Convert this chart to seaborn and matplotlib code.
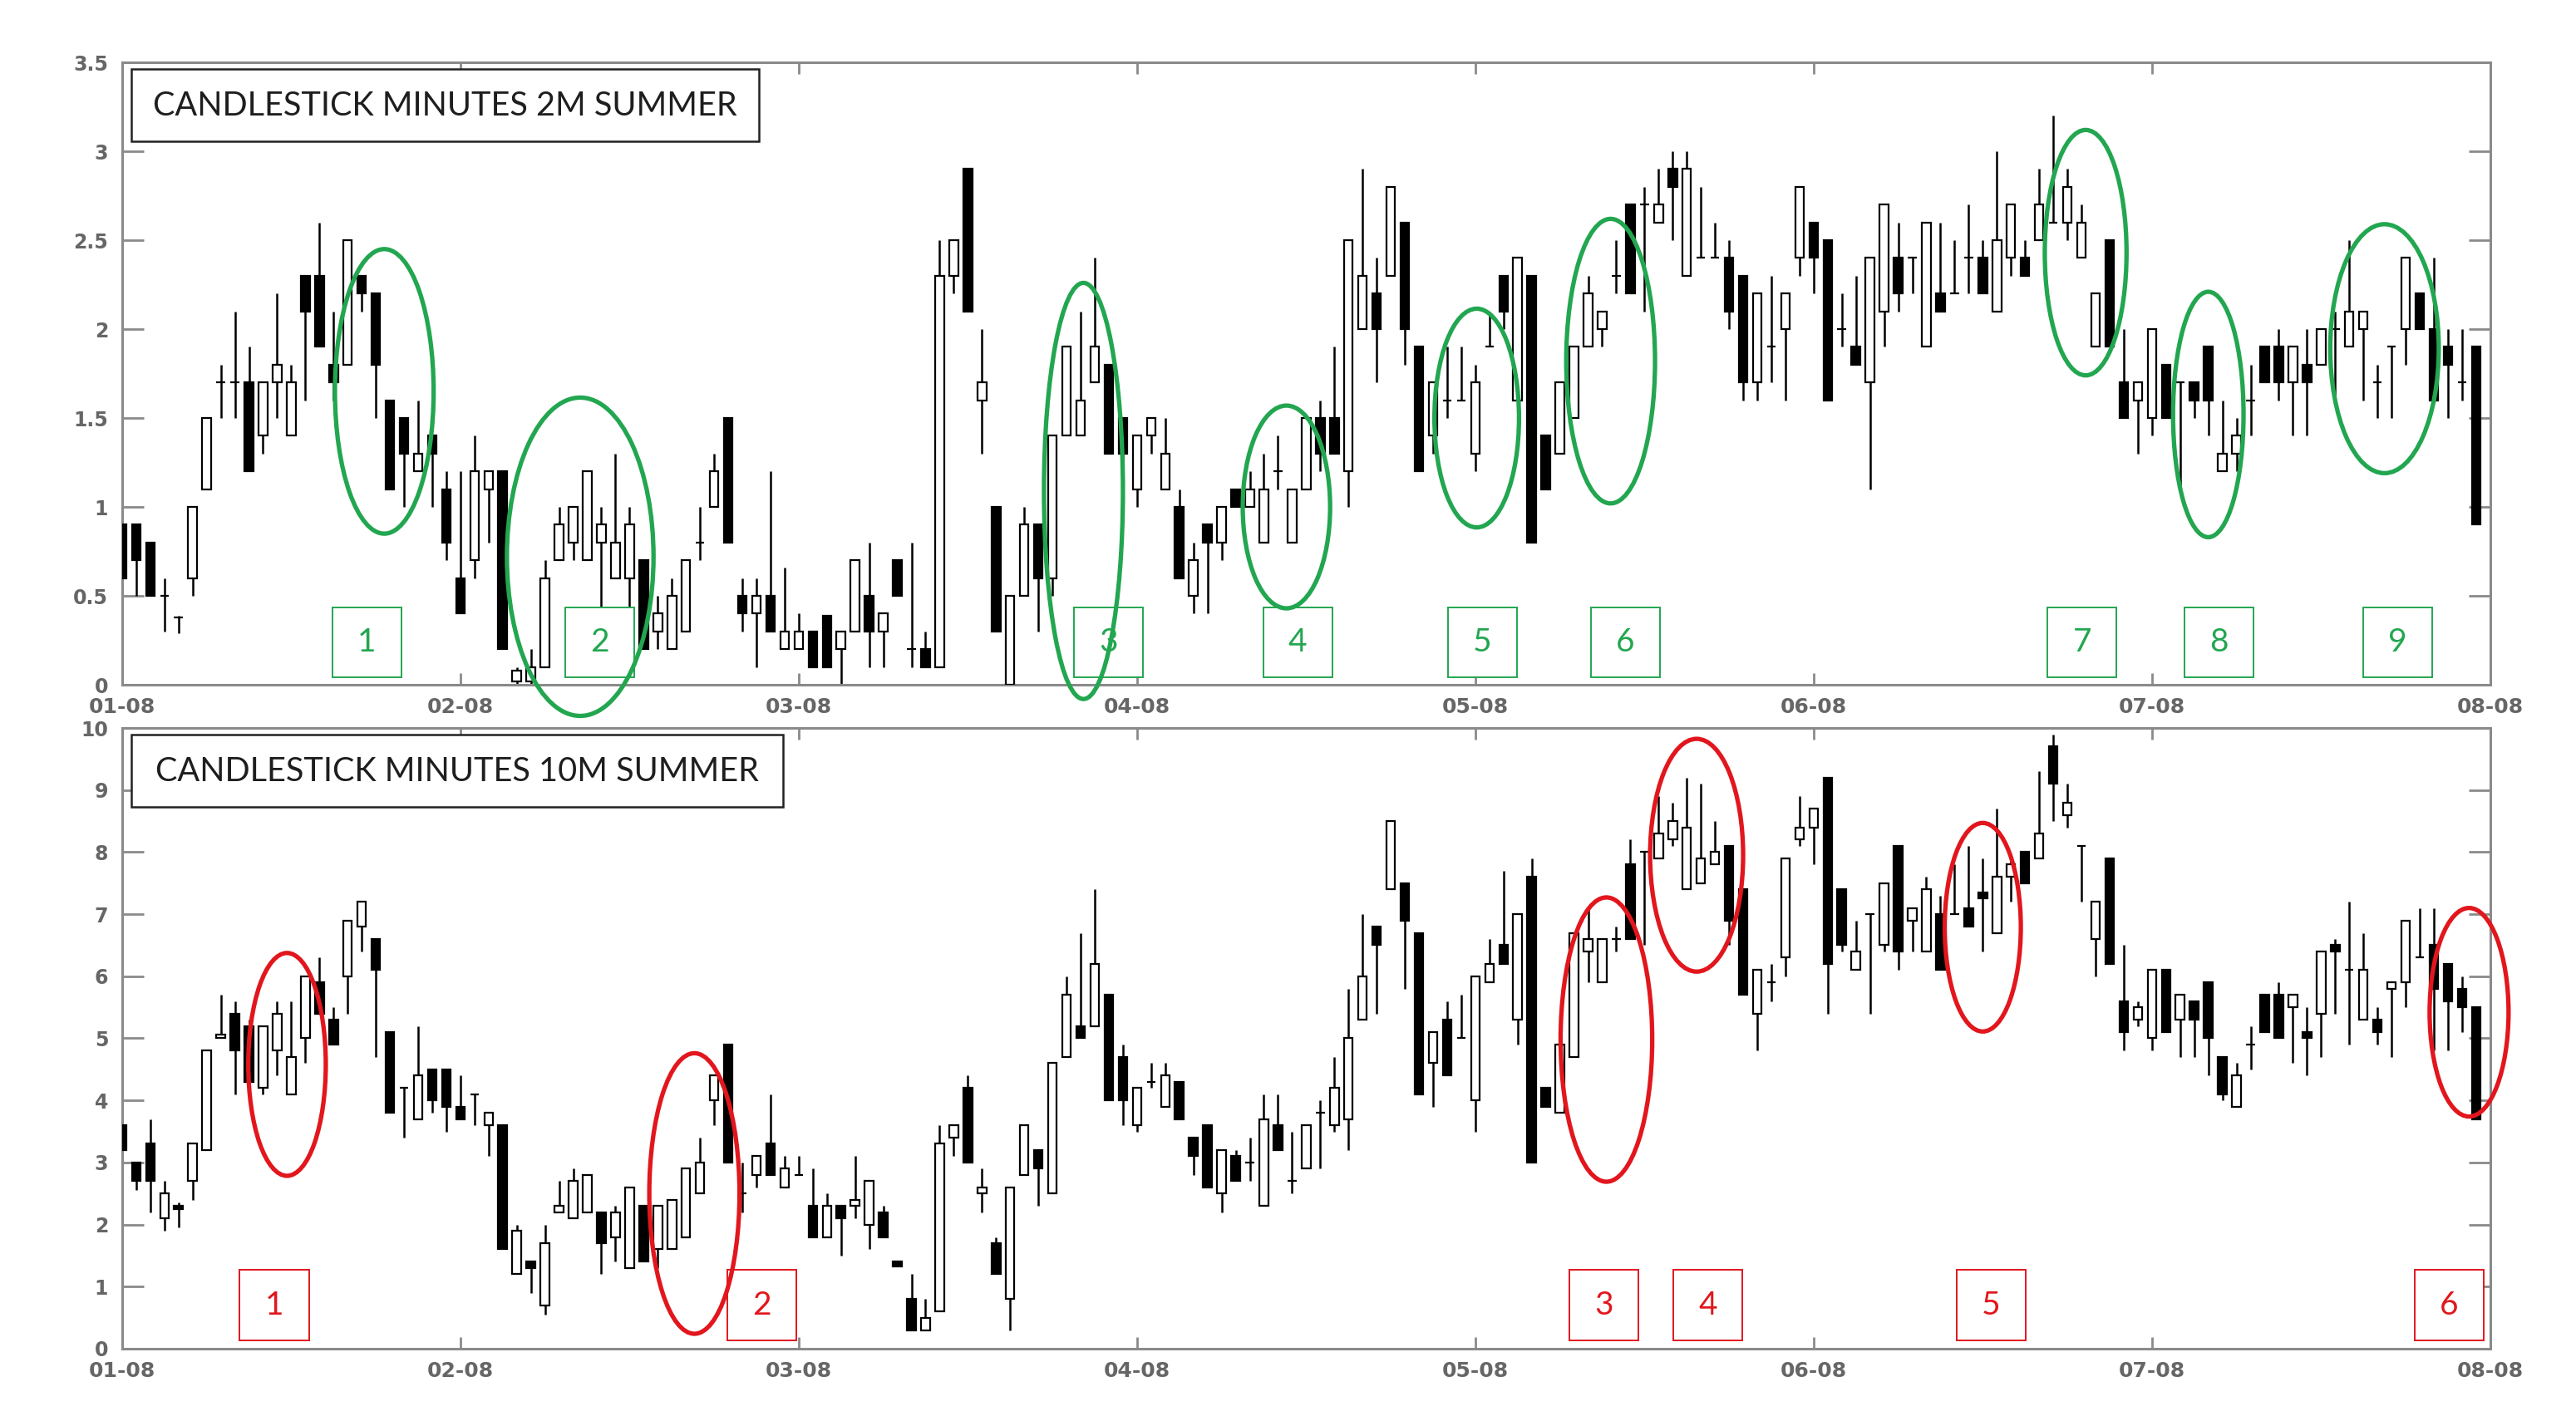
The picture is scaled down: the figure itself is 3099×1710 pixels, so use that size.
import numpy as np
import pandas as pd
import seaborn as sns
import matplotlib
matplotlib.use('Agg')
import matplotlib.pyplot as plt
from matplotlib.patches import Ellipse, Rectangle

sns.set_theme(style='white')
plt.rcParams['font.family'] = ['Lato', 'DejaVu Sans']

# x axis labels (one every 24 candles)
month_labels = ['01-08', '02-08', '03-08', '04-08', '05-08', '06-08', '07-08', '08-08']

# ---- 2M panel (OHLC) ----
top_open = [
    0.9, 0.9, 0.8, 0.5, 0.38, 0.6, 1.1, 1.7, 1.7, 1.7, 1.4, 1.7,
    1.4, 2.3, 2.3, 1.8, 1.8, 2.3, 2.2, 1.6, 1.5, 1.2, 1.4, 1.1,
    0.6, 0.7, 1.1, 1.2, 0.02, 0.02, 0.1, 0.7, 0.8, 0.7, 0.8, 0.6,
    0.6, 0.7, 0.3, 0.2, 0.3, 0.8, 1.0, 1.5, 0.5, 0.4, 0.5, 0.2,
    0.2, 0.3, 0.39, 0.2, 0.3, 0.5, 0.3, 0.7, 0.2, 0.2, 0.1, 2.3,
    2.9, 1.6, 1.0, 0.0, 0.5, 0.9, 0.6, 1.4, 1.4, 1.7, 1.8, 1.5,
    1.1, 1.4, 1.1, 1.0, 0.5, 0.9, 0.8, 1.1, 1.0, 0.8, 1.2, 0.8,
    1.1, 1.5, 1.5, 1.2, 2.0, 2.2, 2.3, 2.6, 1.9, 1.4, 1.6, 1.6,
    1.3, 1.9, 2.3, 1.6, 2.3, 1.4, 1.3, 1.5, 1.9, 2.0, 2.3, 2.7,
    2.7, 2.6, 2.9, 2.3, 2.4, 2.4, 2.4, 2.3, 1.7, 1.9, 2.0, 2.4,
    2.6, 2.5, 2.0, 1.9, 1.7, 2.1, 2.4, 2.4, 1.9, 2.2, 2.2, 2.4,
    2.4, 2.1, 2.4, 2.4, 2.5, 2.6, 2.6, 2.4, 1.9, 2.5, 1.7, 1.6,
    1.5, 1.8, 1.7, 1.7, 1.9, 1.2, 1.3, 1.6, 1.9, 1.9, 1.7, 1.8,
    1.8, 2.0, 1.9, 2.0, 1.7, 1.9, 2.0, 2.2, 2.0, 1.9, 1.7, 1.9,
]
top_high = [
    0.9, 0.9, 0.8, 0.6, 0.39, 1.0, 1.5, 1.8, 2.1, 1.9, 1.7, 2.2,
    1.8, 2.3, 2.6, 2.1, 2.5, 2.3, 2.2, 1.6, 1.5, 1.6, 1.4, 1.2,
    1.2, 1.4, 1.2, 1.2, 0.1, 0.2, 0.7, 1.0, 1.0, 1.2, 1.0, 1.3,
    1.0, 0.7, 0.5, 0.6, 0.7, 1.0, 1.3, 1.5, 0.6, 0.6, 1.2, 0.66,
    0.4, 0.3, 0.39, 0.3, 0.7, 0.8, 0.4, 0.7, 0.8, 0.3, 2.5, 2.5,
    2.9, 2.0, 1.0, 0.5, 1.0, 0.9, 1.4, 1.9, 2.1, 2.4, 1.8, 1.5,
    1.4, 1.5, 1.5, 1.1, 0.8, 0.9, 1.0, 1.1, 1.2, 1.3, 1.4, 1.1,
    1.5, 1.6, 1.9, 2.5, 2.9, 2.4, 2.8, 2.6, 1.9, 1.7, 1.9, 1.9,
    1.8, 2.1, 2.3, 2.4, 2.3, 1.4, 1.7, 1.9, 2.3, 2.1, 2.5, 2.7,
    2.8, 2.9, 3.0, 3.0, 2.8, 2.6, 2.5, 2.3, 2.2, 2.3, 2.2, 2.8,
    2.6, 2.5, 2.2, 2.3, 2.4, 2.7, 2.6, 2.4, 2.6, 2.6, 2.5, 2.7,
    2.5, 3.0, 2.7, 2.5, 2.9, 3.2, 2.9, 2.7, 2.2, 2.5, 2.0, 1.7,
    2.0, 1.8, 1.7, 1.7, 1.9, 1.6, 1.5, 1.8, 1.9, 2.0, 1.9, 2.0,
    2.0, 2.1, 2.5, 2.1, 1.8, 1.9, 2.4, 2.2, 2.4, 2.0, 2.0, 1.9,
]
top_low = [
    0.6, 0.5, 0.5, 0.3, 0.29, 0.5, 1.1, 1.5, 1.5, 1.2, 1.3, 1.5,
    1.4, 1.6, 1.9, 1.6, 1.8, 2.1, 1.5, 1.1, 1.0, 1.2, 1.0, 0.7,
    0.4, 0.6, 0.8, 0.2, 0.0, 0.0, 0.1, 0.7, 0.7, 0.7, 0.4, 0.6,
    0.4, 0.2, 0.2, 0.2, 0.3, 0.7, 1.0, 0.8, 0.3, 0.1, 0.3, 0.2,
    0.2, 0.1, 0.1, 0.0, 0.3, 0.1, 0.1, 0.5, 0.1, 0.1, 0.1, 2.2,
    2.1, 1.3, 0.3, 0.0, 0.5, 0.3, 0.5, 1.4, 1.4, 1.7, 1.3, 1.1,
    1.0, 1.3, 1.1, 0.6, 0.4, 0.4, 0.7, 1.0, 1.0, 0.8, 1.1, 0.8,
    1.1, 1.2, 1.3, 1.0, 2.0, 1.7, 2.3, 1.8, 1.2, 1.3, 1.5, 1.6,
    1.2, 1.9, 2.0, 1.5, 0.8, 1.1, 1.3, 1.5, 1.9, 1.9, 2.2, 2.2,
    2.1, 2.6, 2.5, 2.3, 2.4, 2.4, 2.0, 1.6, 1.6, 1.7, 1.6, 2.3,
    2.2, 1.6, 1.9, 1.8, 1.1, 1.9, 2.1, 2.2, 1.9, 2.1, 2.2, 2.2,
    2.2, 2.1, 2.3, 2.3, 2.5, 2.6, 2.5, 2.4, 1.9, 1.9, 1.5, 1.3,
    1.4, 1.5, 1.1, 1.5, 1.4, 1.2, 1.2, 1.4, 1.7, 1.6, 1.4, 1.4,
    1.8, 1.6, 1.9, 1.6, 1.5, 1.5, 1.8, 2.0, 1.6, 1.5, 1.6, 0.9,
]
top_close = [
    0.6, 0.7, 0.5, 0.5, 0.38, 1.0, 1.5, 1.7, 1.7, 1.2, 1.7, 1.8,
    1.7, 2.1, 1.9, 1.7, 2.5, 2.2, 1.8, 1.1, 1.3, 1.3, 1.3, 0.8,
    0.4, 1.2, 1.2, 0.2, 0.08, 0.1, 0.6, 0.9, 1.0, 1.2, 0.9, 0.8,
    0.9, 0.2, 0.4, 0.5, 0.7, 0.8, 1.2, 0.8, 0.4, 0.5, 0.3, 0.3,
    0.3, 0.1, 0.1, 0.3, 0.7, 0.3, 0.4, 0.5, 0.2, 0.1, 2.3, 2.5,
    2.1, 1.7, 0.3, 0.5, 0.9, 0.6, 1.4, 1.9, 1.6, 1.9, 1.3, 1.3,
    1.4, 1.5, 1.3, 0.6, 0.7, 0.8, 1.0, 1.0, 1.1, 1.1, 1.2, 1.1,
    1.5, 1.3, 1.3, 2.5, 2.3, 2.0, 2.8, 2.0, 1.2, 1.7, 1.6, 1.6,
    1.7, 1.9, 2.1, 2.4, 0.8, 1.1, 1.7, 1.9, 2.2, 2.1, 2.3, 2.2,
    2.7, 2.7, 2.8, 2.9, 2.4, 2.4, 2.1, 1.7, 2.2, 1.9, 2.2, 2.8,
    2.4, 1.6, 2.0, 1.8, 2.4, 2.7, 2.2, 2.4, 2.6, 2.1, 2.2, 2.4,
    2.2, 2.5, 2.7, 2.3, 2.7, 2.6, 2.8, 2.6, 2.2, 1.9, 1.5, 1.7,
    2.0, 1.5, 1.7, 1.6, 1.6, 1.3, 1.4, 1.6, 1.7, 1.7, 1.9, 1.7,
    2.0, 2.0, 2.1, 2.1, 1.7, 1.9, 2.4, 2.0, 1.6, 1.8, 1.7, 0.9,
]

# ---- 10M panel (OHLC) ----
bot_open = [
    3.6, 3.0, 3.3, 2.1, 2.3, 2.7, 3.2, 5.0, 5.4, 5.2, 4.2, 4.8,
    4.1, 5.0, 5.9, 5.3, 6.0, 6.8, 6.6, 5.1, 4.2, 3.7, 4.5, 4.5,
    3.9, 4.1, 3.6, 3.6, 1.2, 1.4, 0.7, 2.2, 2.1, 2.2, 2.2, 1.8,
    1.3, 2.3, 1.6, 1.6, 1.8, 2.5, 4.0, 4.9, 2.5, 2.8, 3.3, 2.6,
    2.8, 2.3, 1.8, 2.3, 2.3, 2.0, 2.2, 1.4, 0.8, 0.3, 0.6, 3.4,
    4.2, 2.5, 1.7, 0.8, 2.8, 3.2, 2.5, 4.7, 5.2, 5.2, 5.7, 4.7,
    3.6, 4.3, 3.9, 4.3, 3.4, 3.6, 2.5, 3.1, 3.0, 2.3, 3.6, 2.7,
    2.9, 3.8, 3.6, 3.7, 5.3, 6.8, 7.4, 7.5, 6.7, 4.6, 5.3, 5.0,
    4.0, 5.9, 6.5, 5.3, 7.6, 4.2, 3.8, 4.7, 6.4, 5.9, 6.6, 7.8,
    8.0, 7.9, 8.2, 7.4, 7.5, 7.8, 8.1, 7.4, 5.4, 5.9, 6.3, 8.2,
    8.4, 9.2, 7.4, 6.1, 7.0, 6.5, 8.1, 6.9, 6.4, 7.0, 7.0, 7.1,
    7.35, 6.7, 7.6, 8.0, 7.9, 9.7, 8.6, 8.1, 6.6, 7.9, 5.6, 5.3,
    5.0, 6.1, 5.3, 5.6, 5.9, 4.7, 3.9, 4.9, 5.7, 5.7, 5.5, 5.1,
    5.4, 6.5, 6.1, 5.3, 5.3, 5.8, 5.9, 6.3, 6.5, 6.2, 5.8, 5.5,
]
bot_high = [
    3.6, 3.0, 3.7, 2.7, 2.35, 3.3, 4.8, 5.7, 5.6, 5.3, 5.2, 5.6,
    5.6, 6.0, 6.3, 5.5, 6.9, 7.2, 6.6, 5.1, 4.2, 5.2, 4.5, 4.5,
    4.4, 4.1, 3.8, 3.6, 2.0, 1.4, 2.0, 2.7, 2.9, 2.8, 2.2, 2.3,
    2.6, 2.3, 2.3, 2.4, 2.9, 3.4, 4.4, 4.9, 3.0, 3.1, 4.1, 3.1,
    3.1, 2.9, 2.5, 2.3, 3.1, 2.7, 2.3, 1.4, 1.2, 0.8, 3.6, 3.6,
    4.4, 2.9, 1.8, 2.6, 3.6, 3.2, 4.6, 6.0, 6.7, 7.4, 5.7, 4.9,
    4.2, 4.6, 4.6, 4.3, 3.4, 3.6, 3.2, 3.2, 3.4, 4.1, 4.1, 3.5,
    3.6, 4.0, 4.7, 5.8, 7.0, 6.8, 8.5, 7.5, 6.7, 5.1, 5.6, 5.7,
    6.0, 6.6, 7.7, 7.0, 7.9, 4.2, 5.0, 6.7, 7.1, 6.6, 6.8, 8.2,
    8.0, 8.9, 8.8, 9.2, 9.1, 8.5, 8.1, 7.4, 6.1, 6.2, 7.9, 8.9,
    8.7, 9.2, 7.4, 6.9, 7.0, 7.5, 8.1, 7.1, 7.6, 7.3, 7.8, 8.1,
    7.9, 8.7, 7.9, 8.0, 9.3, 9.9, 9.1, 8.1, 7.2, 7.9, 6.5, 5.6,
    6.1, 6.1, 5.7, 5.6, 5.9, 4.7, 4.6, 5.2, 5.7, 5.9, 5.7, 5.5,
    6.4, 6.6, 7.2, 6.7, 5.5, 5.9, 6.9, 7.1, 7.1, 6.2, 6.0, 5.5,
]
bot_low = [
    3.2, 2.55, 2.2, 1.9, 1.95, 2.4, 3.2, 5.0, 4.1, 4.3, 4.1, 4.4,
    4.1, 4.6, 5.4, 4.9, 5.4, 6.4, 4.7, 3.8, 3.4, 3.7, 3.8, 3.5,
    3.7, 3.6, 3.1, 1.6, 1.2, 0.9, 0.55, 2.2, 2.1, 2.2, 1.2, 1.4,
    1.3, 1.4, 1.3, 1.6, 1.8, 2.5, 3.6, 3.0, 2.2, 2.6, 2.8, 2.6,
    2.8, 1.8, 1.8, 1.5, 2.1, 1.6, 1.8, 1.33, 0.3, 0.3, 0.6, 3.1,
    3.0, 2.2, 1.2, 0.3, 2.8, 2.3, 2.5, 4.7, 5.0, 5.2, 4.0, 3.6,
    3.5, 4.2, 3.9, 3.7, 2.8, 2.6, 2.2, 2.7, 2.7, 2.3, 3.2, 2.5,
    2.9, 2.9, 3.5, 3.2, 5.3, 5.4, 7.4, 5.8, 4.1, 3.9, 4.4, 5.0,
    3.5, 5.9, 6.2, 4.9, 3.0, 3.9, 3.8, 4.7, 5.9, 5.9, 6.4, 6.6,
    6.5, 7.9, 8.1, 7.4, 7.5, 7.8, 6.5, 5.7, 4.8, 5.6, 6.0, 8.1,
    7.8, 5.4, 6.4, 6.1, 5.4, 6.4, 6.1, 6.4, 6.4, 6.1, 7.0, 6.8,
    6.4, 6.7, 7.2, 7.5, 7.9, 8.5, 8.4, 7.2, 6.0, 6.2, 4.8, 5.2,
    4.8, 5.1, 4.7, 4.7, 4.4, 4.0, 3.9, 4.5, 5.1, 5.0, 4.6, 4.4,
    4.7, 5.4, 4.9, 5.3, 4.9, 4.7, 5.5, 6.3, 4.8, 4.8, 5.1, 3.7,
]
bot_close = [
    3.2, 2.7, 2.7, 2.5, 2.25, 3.3, 4.8, 5.06, 4.8, 4.3, 5.2, 5.4,
    4.7, 6.0, 5.4, 4.9, 6.9, 7.2, 6.1, 3.8, 4.2, 4.4, 4.0, 3.9,
    3.7, 4.1, 3.8, 1.6, 1.9, 1.3, 1.7, 2.3, 2.7, 2.8, 1.7, 2.2,
    2.6, 1.4, 2.3, 2.4, 2.9, 3.0, 4.4, 3.0, 2.5, 3.1, 2.8, 2.9,
    2.8, 1.8, 2.3, 2.1, 2.4, 2.7, 1.8, 1.33, 0.3, 0.5, 3.3, 3.6,
    3.0, 2.6, 1.2, 2.6, 3.6, 2.9, 4.6, 5.7, 5.0, 6.2, 4.0, 4.0,
    4.2, 4.3, 4.4, 3.7, 3.1, 2.6, 3.2, 2.7, 3.0, 3.7, 3.2, 2.7,
    3.6, 3.8, 4.2, 5.0, 6.0, 6.5, 8.5, 6.9, 4.1, 5.1, 4.4, 5.0,
    6.0, 6.2, 6.2, 7.0, 3.0, 3.9, 4.9, 6.7, 6.6, 6.6, 6.6, 6.6,
    8.0, 8.3, 8.5, 8.4, 7.9, 8.0, 6.9, 5.7, 6.1, 5.9, 7.9, 8.4,
    8.7, 6.2, 6.5, 6.4, 7.0, 7.5, 6.4, 7.1, 7.4, 6.1, 7.0, 6.8,
    7.25, 7.6, 7.8, 7.5, 8.3, 9.1, 8.8, 8.1, 7.2, 6.2, 5.1, 5.5,
    6.1, 5.1, 5.7, 5.3, 5.0, 4.1, 4.4, 4.9, 5.1, 5.0, 5.7, 5.0,
    6.4, 6.4, 6.1, 6.1, 5.1, 5.9, 6.9, 6.3, 5.8, 5.6, 5.5, 3.7,
]

# annotations: ellipses (x, y, width, height) in data units, boxes by center x
top_ellipses = [(18.6, 1.65, 7.0, 1.60), (32.5, 0.72, 10.4, 1.79), (68.2, 1.09, 5.6, 2.34),
                (82.6, 1.00, 6.2, 1.14), (96.1, 1.50, 6.0, 1.23), (105.6, 1.82, 6.3, 1.60),
                (139.3, 2.43, 5.8, 1.38), (148.0, 1.52, 5.0, 1.38), (160.5, 1.89, 7.7, 1.40)]
top_box_x = [17.35, 33.9, 70.0, 83.4, 96.5, 106.65, 139.05, 148.75, 161.45]
bot_ellipses = [(11.7, 4.58, 5.5, 3.59), (40.6, 2.50, 6.4, 4.52), (105.3, 4.98, 6.5, 4.58),
                (111.7, 7.95, 6.6, 3.75), (132.0, 6.79, 5.4, 3.36), (166.5, 5.42, 5.6, 3.36)]
bot_box_x = [10.8, 45.4, 105.1, 112.5, 132.6, 165.1]

GREEN = '#22a650'
RED = '#e2161d'
AXIS_GRAY = '#8a8a8a'
TICK_FONT = ['DejaVu Sans']


def draw_candles(ax, o, h, l, c):
    df = pd.DataFrame({'open': o, 'high': h, 'low': l, 'close': c})
    df['x'] = np.arange(len(df))
    up = df[df['close'] >= df['open']]
    down = df[df['close'] < df['open']]
    ax.vlines(df['x'], df['low'], df['high'], color='black', lw=1.8, zorder=2)
    ax.bar(up['x'], up['close'] - up['open'], bottom=up['open'], width=0.62,
           facecolor='white', edgecolor='black', lw=1.6, zorder=3)
    ax.bar(down['x'], down['open'] - down['close'], bottom=down['close'], width=0.62,
           facecolor='black', edgecolor='black', lw=1.6, zorder=3)
    return len(df)


def style_axis(ax, n, ymax, ystep, title, title_w):
    ax.set_xlim(0, n)
    ax.set_ylim(0, ymax)
    ax.set_xticks(np.arange(len(month_labels)) * (n // (len(month_labels) - 1)))
    ax.set_xticklabels(month_labels, family=TICK_FONT, fontweight='bold', fontsize=18)
    yt = np.arange(0, ymax + 1e-9, ystep)
    ax.set_yticks(yt)
    ax.set_yticklabels(['%g' % v for v in yt], family=TICK_FONT, fontweight='bold', fontsize=17)
    for s in ax.spines.values():
        s.set_color(AXIS_GRAY)
        s.set_linewidth(2.2)
    ax.tick_params(axis='x', direction='in', top=True, bottom=True, length=10, width=2,
                   color=AXIS_GRAY, labelcolor='#666666', pad=11)
    ax.tick_params(axis='y', direction='in', left=True, right=True, length=19, width=2,
                   color=AXIS_GRAY, labelcolor='#666666', pad=12)
    ax.grid(False)
    ax.add_patch(Rectangle((0.004, 0.873), title_w, 0.117, transform=ax.transAxes,
                           facecolor='white', edgecolor='#222222', lw=1.8, zorder=6))
    ax.text(0.004 + title_w / 2, 0.930, title, transform=ax.transAxes, ha='center',
            va='center', fontsize=28.5, color='#1e1e1e', zorder=7)


def annotate(ax, ellipses, box_x, box_y0, box_h, color):
    for i, bx in enumerate(box_x):
        ax.add_patch(Rectangle((bx - 2.45, box_y0), 4.9, box_h, facecolor='white',
                               edgecolor=color, lw=1.4, zorder=5, clip_on=False))
        ax.text(bx, box_y0 + box_h / 2, str(i + 1), ha='center', va='center',
                fontsize=28, color=color, zorder=6)
    for (cx, cy, w, hgt) in ellipses:
        ax.add_patch(Ellipse((cx, cy), w, hgt, fill=False, edgecolor=color, lw=3.8,
                             zorder=8, clip_on=False))


fig = plt.figure(figsize=(30.99, 17.10), dpi=100)
fig.patch.set_facecolor('white')
ax_top = fig.add_axes([0.0474, 0.5181, 0.9193, 0.438])
ax_bot = fig.add_axes([0.0474, 0.0509, 0.9193, 0.4368])

n_top = draw_candles(ax_top, top_open, top_high, top_low, top_close)
style_axis(ax_top, n_top, 3.5, 0.5, 'CANDLESTICK MINUTES 2M SUMMER', 0.265)
annotate(ax_top, top_ellipses, top_box_x, 0.04, 0.395, GREEN)

n_bot = draw_candles(ax_bot, bot_open, bot_high, bot_low, bot_close)
style_axis(ax_bot, n_bot, 10, 1, 'CANDLESTICK MINUTES 10M SUMMER', 0.275)
annotate(ax_bot, bot_ellipses, bot_box_x, 0.13, 1.14, RED)

fig.savefig('out.png', dpi=100, facecolor='white')
